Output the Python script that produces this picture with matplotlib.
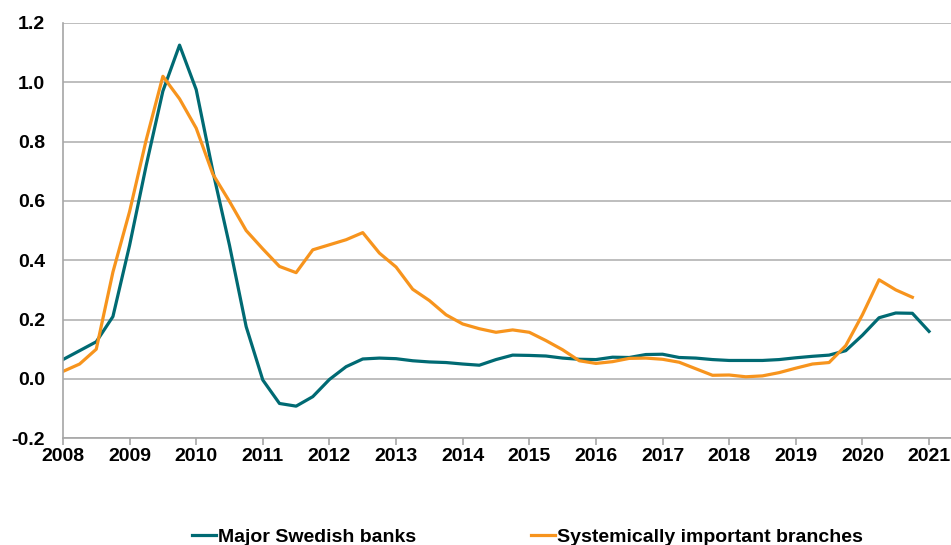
import matplotlib
matplotlib.use("Agg")
import matplotlib.pyplot as plt
import numpy as np

plt.rcParams['font.family'] = ['Liberation Sans', 'DejaVu Sans']

# quarterly observations, first one at 2008.0
start_year = 2008.0
major_banks = [0.065, 0.095, 0.125, 0.21, 0.45, 0.72, 0.97, 1.125,
               0.975, 0.70, 0.45, 0.176, -0.004, -0.083, -0.092, -0.06,
               -0.002, 0.041, 0.067, 0.07, 0.068, 0.061, 0.057, 0.055,
               0.05, 0.046, 0.065, 0.08, 0.079, 0.077, 0.07, 0.066,
               0.065, 0.073, 0.072, 0.082, 0.083, 0.072, 0.07, 0.065,
               0.062, 0.062, 0.062, 0.065, 0.071, 0.076, 0.08, 0.095,
               0.147, 0.206, 0.222, 0.221, 0.16]
branches = [0.025, 0.05, 0.10, 0.36, 0.564, 0.806, 1.02, 0.944,
            0.845, 0.69, 0.598, 0.50, 0.438, 0.379, 0.358, 0.435,
            0.452, 0.469, 0.493, 0.424, 0.377, 0.302, 0.264, 0.216,
            0.185, 0.169, 0.157, 0.165, 0.157, 0.129, 0.098, 0.061,
            0.052, 0.058, 0.069, 0.07, 0.066, 0.056, 0.034, 0.012,
            0.013, 0.007, 0.01, 0.021, 0.036, 0.05, 0.055, 0.112,
            0.216, 0.334, 0.30, 0.275]
years = list(range(2008, 2022))
yticks = [-0.2, 0.0, 0.2, 0.4, 0.6, 0.8, 1.0, 1.2]

x_major = start_year + np.arange(len(major_banks)) / 4
x_branch = start_year + np.arange(len(branches)) / 4

fig = plt.figure(figsize=(9.51, 5.45), dpi=100)
ax = fig.add_axes([0.0662, 0.196, 0.9338, 0.762])

ax.plot(x_major, major_banks, color="#006A73", lw=2.3, label="Major Swedish banks")
ax.plot(x_branch, branches, color="#F7941D", lw=2.3, label="Systemically important branches")

ax.set_xlim(2008, 2021.33)
ax.set_ylim(-0.2, 1.2)
ax.set_xticks(years)
ax.set_yticks(yticks)
ax.set_yticklabels(["%.1f" % v for v in yticks])
ax.grid(axis="y", color="#B3B3B3", lw=1.2)
ax.set_axisbelow(True)
for s in ["top", "right"]:
    ax.spines[s].set_visible(False)
ax.spines["left"].set_color("#A6A6A6")
ax.spines["bottom"].set_color("#A6A6A6")
ax.spines["left"].set_linewidth(1.2)
ax.spines["bottom"].set_linewidth(1.2)
ax.tick_params(axis="x", direction="out", length=5, color="#A6A6A6", width=1.2,
               labelsize=14, pad=2)
ax.tick_params(axis="y", length=0, labelsize=14, pad=13)
for lbl in ax.get_xticklabels() + ax.get_yticklabels():
    lbl.set_fontweight("bold")

leg = ax.legend(loc="center", bbox_to_anchor=(0.523, -0.238), ncol=2, frameon=False,
                prop={"weight": "bold", "size": 14}, handlelength=1.25,
                handletextpad=0.1, columnspacing=5.9)

fig.savefig("out.png", dpi=100)
